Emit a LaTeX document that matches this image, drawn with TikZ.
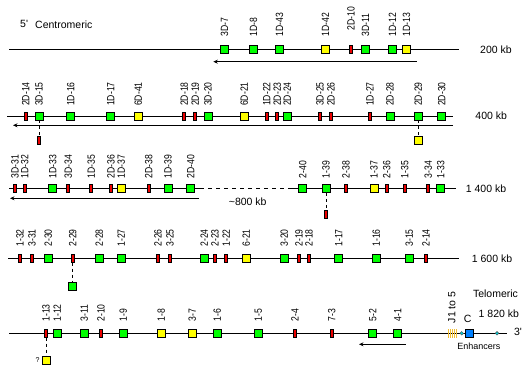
\documentclass[tikz,border=0pt]{standalone}
\usepackage{fontspec}
\usepackage{graphicx}
\setmainfont{Liberation Sans}
\usetikzlibrary{arrows.meta}
\definecolor{gfill}{RGB}{0,255,0}
\definecolor{yfill}{RGB}{255,255,0}
\definecolor{rfill}{RGB}{235,0,0}
\definecolor{bfill}{RGB}{0,128,255}
\definecolor{cfill}{RGB}{0,205,215}
\definecolor{jcol}{RGB}{242,190,50}
\newcommand\mkgene[6]{\node[#4] (#1) at (#2,#3) {}; \node[lbl] (#1l) at (#2,#3-#6) {\scalebox{0.82}[1]{#5}};}
\begin{document}
\begin{tikzpicture}[x=1pt,y=-1pt,
  chrom/.style={line width=0.9pt},
  gbase/.style={draw=black,line width=0.7pt,inner sep=0pt},
  gsq/.style={gbase,fill=gfill,minimum width=8pt,minimum height=8pt},
  ysq/.style={gbase,fill=yfill,minimum width=8pt,minimum height=8pt},
  rbar/.style={gbase,fill=rfill,minimum width=3pt,minimum height=8pt},
  bsq/.style={gbase,fill=bfill,minimum width=8.5pt,minimum height=8.5pt},
  edot/.style={circle,draw=black!70,line width=0.4pt,fill=cfill,minimum size=3.6pt,inner sep=0pt},
  lbl/.style={rotate=90,anchor=west,inner sep=0pt,font=\fontsize{10.5}{10.5}\selectfont},
  txt/.style={inner sep=0pt,font=\fontsize{10.5}{10.5}\selectfont},
  dline/.style={line width=0.9pt,dash pattern=on 3pt off 3pt},
  mdash/.style={line width=0.9pt,dash pattern=on 4pt off 4pt},
  arr/.style={line width=0.9pt,-{Stealth[length=4.5pt,width=4pt]}},
  jline/.style={draw=jcol,line width=0.6pt}
]
\useasboundingbox (0,0) rectangle (527,375);

% chromosome lines
\coordinate (r1a) at (9,49.5);   \coordinate (r1b) at (459,49.5);
\coordinate (r2a) at (7,116);    \coordinate (r2b) at (453,116);
\coordinate (r3a) at (9,188.5);  \coordinate (r3b) at (200,188.5);
\coordinate (r3c) at (290,188.5);\coordinate (r3d) at (456,188.5);
\coordinate (r4a) at (8,258.3);  \coordinate (r4b) at (459,258.3);
\coordinate (r5a) at (9,333.3);  \coordinate (r5b) at (507,333.3);
\draw[chrom] (r1a) -- (r1b);
\draw[chrom] (r2a) -- (r2b);
\draw[chrom] (r3a) -- (r3b);
\draw[mdash] (r3b) -- (r3c);
\draw[chrom] (r3c) -- (r3d);
\draw[chrom] (r4a) -- (r4b);
\draw[chrom] (r5a) -- (r5b);

% arrows
\coordinate (w1r) at (416.7,61.7); \coordinate (w1l) at (213.3,61.7);
\coordinate (w2r) at (453,125.3);  \coordinate (w2l) at (13,125.3);
\coordinate (w3r) at (199,198.3);  \coordinate (w3l) at (10,198.3);
\coordinate (w5r) at (405.7,344.3);\coordinate (w5l) at (359,344.3);
\draw[arr] (w1r) -- (w1l);
\draw[arr] (w2r) -- (w2l);
\draw[arr] (w3r) -- (w3l);
\draw[arr] (w5r) -- (w5l);

% row 1
\mkgene{a7}{224.5}{49.5}{gsq}{3D-7}{13}
\mkgene{a8}{253.5}{49.5}{gsq}{1D-8}{13}
\mkgene{a43}{279.5}{49.5}{gsq}{1D-43}{13}
\mkgene{a42}{325.5}{49.5}{ysq}{1D-42}{13}
\mkgene{a10}{351}{49.5}{rbar}{2D-10}{19}
\mkgene{a11}{365.5}{49.5}{gsq}{3D-11}{13}
\mkgene{a12}{392.5}{49.5}{gsq}{1D-12}{13}
\mkgene{a13}{406.5}{49.5}{ysq}{1D-13}{13}

% row 2
\mkgene{b14}{25.7}{116}{rbar}{2D-14}{10}
\mkgene{b15}{39}{116}{gsq}{3D-15}{10}
\mkgene{b16}{70.7}{116}{gsq}{1D-16}{10}
\mkgene{b17}{110.7}{116}{gsq}{1D-17}{10}
\mkgene{b41}{138.3}{116}{ysq}{6D-41}{10}
\mkgene{b18}{184.3}{116}{rbar}{2D-18}{10}
\mkgene{b19}{195.3}{116}{rbar}{2D-19}{10}
\mkgene{b20}{208}{116}{gsq}{3D-20}{10}
\mkgene{b21}{244.3}{116}{ysq}{6D-21}{10}
\mkgene{b22}{266.7}{116}{rbar}{1D-22}{10}
\mkgene{b23}{277.3}{116}{rbar}{2D-23}{10}
\mkgene{b24}{287.3}{116}{gsq}{2D-24}{10}
\mkgene{b25}{320}{116}{rbar}{3D-25}{10}
\mkgene{b26}{331}{116}{rbar}{2D-26}{10}
\mkgene{b27}{370}{116}{rbar}{1D-27}{10}
\mkgene{b28}{390}{116}{gsq}{2D-28}{10}
\mkgene{b29}{418.3}{116}{gsq}{2D-29}{10}
\mkgene{b30}{441.7}{116}{gsq}{2D-30}{10}

% row 3
\mkgene{c31}{15}{188.5}{rbar}{3D-31}{10}
\mkgene{c32}{24.7}{188.5}{rbar}{1D-32}{10}
\mkgene{c33}{52.7}{188.5}{gsq}{1D-33}{10}
\mkgene{c34}{68.3}{188.5}{rbar}{3D-34}{10}
\mkgene{c35}{91.3}{188.5}{rbar}{1D-35}{10}
\mkgene{c36}{111}{188.5}{rbar}{2D-36}{10}
\mkgene{c37}{121.3}{188.5}{ysq}{1D-37}{10}
\mkgene{c38}{148.7}{188.5}{rbar}{2D-38}{10}
\mkgene{c39}{168}{188.5}{gsq}{1D-39}{10}
\mkgene{c40}{190.7}{188.5}{gsq}{2D-40}{10}
\mkgene{d40}{302.7}{188.5}{gsq}{2-40}{10}
\mkgene{d39}{326}{188.5}{gsq}{1-39}{10}
\mkgene{d38}{346}{188.5}{rbar}{2-38}{10}
\mkgene{d37}{374}{188.5}{ysq}{1-37}{10}
\mkgene{d36}{386.7}{188.5}{rbar}{2-36}{10}
\mkgene{d35}{404.7}{188.5}{rbar}{1-35}{10}
\mkgene{d34}{428.3}{188.5}{rbar}{3-34}{10}
\mkgene{d33}{440.7}{188.5}{gsq}{1-33}{10}

% row 4
\mkgene{e32}{20}{258.3}{rbar}{1-32}{11.5}
\mkgene{e31}{32}{258.3}{rbar}{3-31}{11.5}
\mkgene{e30}{48.3}{258.3}{gsq}{2-30}{11.5}
\mkgene{e29}{72.7}{258.3}{rbar}{2-29}{11.5}
\mkgene{e28}{99.3}{258.3}{gsq}{2-28}{11.5}
\mkgene{e27}{121.3}{258.3}{gsq}{1-27}{11.5}
\mkgene{e26}{158}{258.3}{rbar}{2-26}{11.5}
\mkgene{e25}{170}{258.3}{rbar}{3-25}{11.5}
\mkgene{e24}{204.3}{258.3}{gsq}{2-24}{11.5}
\mkgene{e23}{215}{258.3}{rbar}{2-23}{11.5}
\mkgene{e22}{226.3}{258.3}{rbar}{1-22}{11.5}
\mkgene{e21}{246.3}{258.3}{ysq}{6-21}{11.5}
\mkgene{e20}{284.3}{258.3}{gsq}{3-20}{11.5}
\mkgene{e19}{299}{258.3}{rbar}{2-19}{11.5}
\mkgene{e18}{309}{258.3}{rbar}{2-18}{11.5}
\mkgene{e17}{338.7}{258.3}{gsq}{1-17}{11.5}
\mkgene{e16}{376.3}{258.3}{gsq}{1-16}{11.5}
\mkgene{e15}{409.3}{258.3}{gsq}{3-15}{11.5}
\mkgene{e14}{426}{258.3}{rbar}{2-14}{11.5}

% row 5
\mkgene{f13}{46}{333.3}{rbar}{1-13}{11.5}
\mkgene{f12}{57.3}{333.3}{gsq}{1-12}{11.5}
\mkgene{f11}{84.3}{333.3}{gsq}{3-11}{11.5}
\mkgene{f10}{101}{333.3}{rbar}{2-10}{11.5}
\mkgene{f9}{123.3}{333.3}{gsq}{1-9}{11.5}
\mkgene{f8}{161.3}{333.3}{ysq}{1-8}{11.5}
\mkgene{f7}{192.3}{333.3}{ysq}{3-7}{11.5}
\mkgene{f6}{217.3}{333.3}{gsq}{1-6}{11.5}
\mkgene{f5}{258.3}{333.3}{gsq}{1-5}{11.5}
\mkgene{f4}{295}{333.3}{rbar}{2-4}{11.5}
\mkgene{f3}{331.7}{333.3}{rbar}{7-3}{11.5}
\mkgene{f2}{372.7}{333.3}{gsq}{5-2}{11.5}
\mkgene{f1}{397.7}{333.3}{gsq}{4-1}{11.5}

% J segments, enhancers, C
\foreach \jx in {448,450,452,454,456} \draw[jline] (\jx,329) -- (\jx,337.6);
\node[lbl] (jlab) at (451.7,323.3) {J1 to 5};
\node[edot] (en1) at (461.7,333.3) {};
\node[bsq] (cg) at (469.3,333.3) {};
\node[edot] (en2) at (497,333.3) {};
\node[txt] (ctxt) at (467.7,319) {C};
\node[inner sep=0pt,font=\fontsize{9}{9}\selectfont] (enh) at (478.8,346.7) {Enhancers};

% side branches
\node[rbar] (b15s) at (39,140.5) {};
\node[ysq] (b29s) at (418.3,140.3) {};
\node[rbar] (d39s) at (326,214) {};
\node[gsq] (e29s) at (72.7,286) {};
\node[ysq] (f13s) at (46,360.7) {};
\draw[dline] (b15) -- (b15s);
\draw[dline] (b29) -- (b29s);
\draw[dline] (d39) -- (d39s);
\draw[dline] (e29) -- (e29s);
\draw[dline] (f13) -- (f13s);
\node[inner sep=0pt,font=\fontsize{7}{7}\selectfont] (qm) at (37.6,360.3) {?};

% texts
\node[txt,anchor=west] (five) at (20,24.3) {5\textquotesingle};
\node[txt,anchor=west] (centro) at (35,24.3) {Centromeric};
\node[txt] (k200) at (496,50) {200 kb};
\node[txt] (k400) at (491.2,116) {400 kb};
\node[txt] (k1400) at (486,188.3) {1 400 kb};
\node[txt] (k800) at (247.7,201.7) {\textasciitilde800 kb};
\node[txt] (k1600) at (492,258.3) {1 600 kb};
\node[txt] (telo) at (495.5,294) {Telomeric};
\node[txt] (k1820) at (498.8,313.3) {1 820 kb};
\node[txt] (three) at (518,331.7) {3\textquotesingle};
\end{tikzpicture}
\end{document}
